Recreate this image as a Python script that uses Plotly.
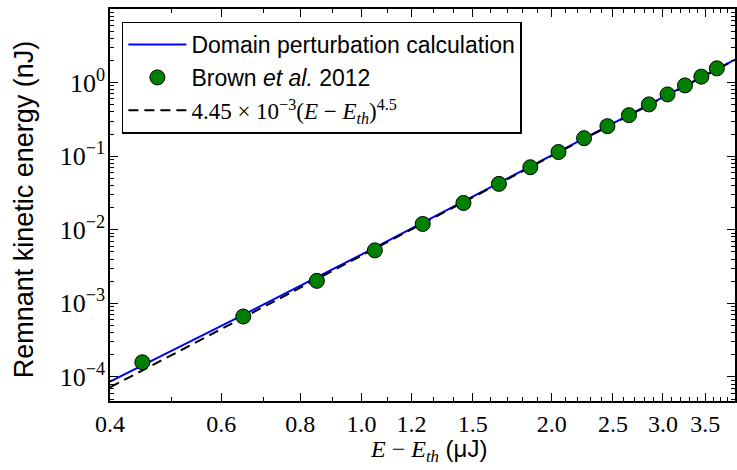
import math
import plotly.graph_objects as go

# Data
brown_x = [0.45, 0.65, 0.85, 1.05, 1.25, 1.45, 1.65, 1.85, 2.05,
           2.25, 2.45, 2.65, 2.85, 3.05, 3.25, 3.45, 3.65]
brown_y = [1.58e-4, 6.61e-4, 2.02e-3, 5.24e-3, 1.198e-2, 2.31e-2, 4.20e-2,
           7.07e-2, 0.1138, 0.1754, 0.2557, 0.3607, 0.505, 0.690, 0.916,
           1.203, 1.561]

calc_x = [0.4, 0.65, 1.05, 2.05, 3.65, 3.9]
calc_y = [8.6e-5, 6.97e-4, 5.7e-3, 0.1156, 1.56, 2.05]

fit_x = [0.4, 1.0, 3.9]
fit_y = [7.2e-5, 4.45e-3, 2.03]

x_major = [0.4, 0.6, 0.8, 1.0, 1.2, 1.5, 2.0, 2.5, 3.0, 3.5]
x_major_labels = ["0.4", "0.6", "0.8", "1.0", "1.2", "1.5", "2.0", "2.5", "3.0", "3.5"]
x_minor = [0.5, 0.7, 0.9, 1.1, 1.3, 1.4, 1.6, 1.7, 1.8, 1.9, 2.1, 2.2, 2.3, 2.4,
           2.6, 2.7, 2.8, 2.9, 3.1, 3.2, 3.3, 3.4, 3.6, 3.7, 3.8]
y_major = [1e-4, 1e-3, 1e-2, 1e-1, 1e0, 1e1]
y_major_labels = ["10<sup>−4</sup>", "10<sup>−3</sup>", "10<sup>−2</sup>",
                  "10<sup>−1</sup>", "10<sup>0</sup>", "10<sup>1</sup>"]
y_minor = [m * 10.0 ** e for e in range(-5, 1) for m in range(2, 10)]

x_title = ("<span style='font-family:Liberation Serif'><i>E</i> − "
           "<i>E</i><sub><i>th</i></sub></span> (μJ)")
y_title = "Remnant kinetic energy (nJ)"

SANS = "Liberation Sans"
SERIF = "Liberation Serif"

fig = go.Figure()
fig.add_trace(go.Scatter(
    x=calc_x, y=calc_y, mode="lines",
    line=dict(color="#0000ff", width=2),
    name="Domain perturbation calculation", legendrank=1))
fig.add_trace(go.Scatter(
    x=fit_x, y=fit_y, mode="lines",
    line=dict(color="black", width=2, dash="10px,6px"),
    name=("<span style='font-family:Liberation Serif'>4.45 × 10<sup>−3</sup>"
          "(<i>E</i> − <i>E</i><sub><i>th</i></sub>)<sup>4.5</sup></span>"),
    legendrank=3))
fig.add_trace(go.Scatter(
    x=brown_x, y=brown_y, mode="markers",
    marker=dict(color="#008000", size=15, line=dict(color="black", width=1)),
    name="Brown <i>et al.</i> 2012", legendrank=2))

fig.update_layout(
    width=737, height=470,
    margin=dict(l=110, r=0, t=9, b=69),
    paper_bgcolor="white", plot_bgcolor="white",
    font=dict(family=SANS, size=22, color="black"),
    showlegend=True,
    legend=dict(x=0.019, y=0.968, xanchor="left", yanchor="top",
                bordercolor="black", borderwidth=1.5, bgcolor="white",
                font=dict(family=SANS, size=23), tracegroupgap=0,
                itemwidth=58),
    xaxis=dict(
        type="log", range=[math.log10(0.4), math.log10(3.9)],
        showgrid=False, zeroline=False,
        showline=True, linecolor="black", linewidth=1.5, mirror="allticks",
        ticks="inside", ticklen=8, tickwidth=1, tickcolor="black",
        tickmode="array", tickvals=x_major, ticktext=x_major_labels,
        tickfont=dict(family=SERIF, size=24),
        minor=dict(ticks="inside", ticklen=4, tickwidth=1, tickcolor="black",
                   tickmode="array", tickvals=x_minor, showgrid=False),
    ),
    yaxis=dict(
        type="log", range=[math.log10(4.7e-5), 1],
        showgrid=False, zeroline=False,
        showline=True, linecolor="black", linewidth=1.5, mirror="allticks",
        ticks="inside", ticklen=8, tickwidth=1, tickcolor="black",
        tickmode="array", tickvals=y_major, ticktext=y_major_labels,
        tickfont=dict(family=SERIF, size=26), ticklabelstandoff=-2,
        minor=dict(ticks="inside", ticklen=4, tickwidth=1, tickcolor="black",
                   tickmode="array", tickvals=y_minor, showgrid=False),
    ),
    annotations=[
        dict(text=x_title, xref="paper", yref="paper", x=0.51, y=-0.125,
             xanchor="center", yanchor="middle", showarrow=False,
             font=dict(family=SANS, size=24)),
        dict(text=y_title, xref="paper", yref="paper", x=-0.137, y=0.49,
             xanchor="center", yanchor="middle", showarrow=False,
             textangle=-90, font=dict(family=SANS, size=27)),
    ],
)

fig.write_html("out.html")
